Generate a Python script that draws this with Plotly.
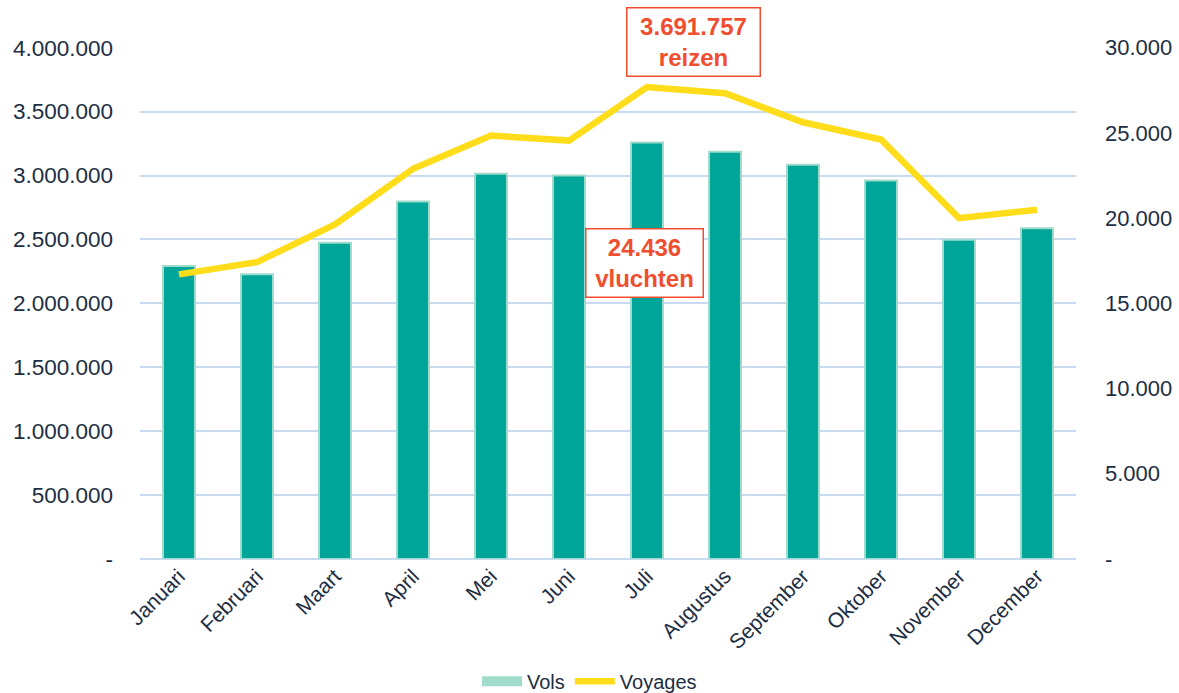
import plotly.graph_objects as go

maanden = ["Januari", "Februari", "Maart", "April", "Mei", "Juni", "Juli",
           "Augustus", "September", "Oktober", "November", "December"]
vols = [17190, 16700, 18560, 20980, 22600, 22500, 24436,
        23900, 23130, 22210, 18730, 19410]
voyages = [2226600, 2322700, 2617200, 3052300, 3312500, 3273400, 3691757,
           3643000, 3416400, 3281300, 2666400, 2732000]

left_ticks = [0, 500000, 1000000, 1500000, 2000000, 2500000, 3000000, 3500000, 4000000]
left_text = ["-", "500.000", "1.000.000", "1.500.000", "2.000.000", "2.500.000",
             "3.000.000", "3.500.000", "4.000.000"]
right_ticks = [0, 5000, 10000, 15000, 20000, 25000, 30000]
right_text = ["-", "5.000", "10.000", "15.000", "20.000", "25.000", "30.000"]

navy = "#1d2e44"
red = "#f04e2f"
teal = "#00a59a"
mint = "#9fdccb"
yellow = "#ffdd1a"
grid = "#c8dbef"
font = "Liberation Sans"

fig = go.Figure()
fig.add_trace(go.Bar(x=maanden, y=vols, name="Vols", yaxis="y", showlegend=False,
                     marker=dict(color=teal, line=dict(color=mint, width=2)),
                     width=0.41))
# legend swatch for the bars (wide rectangle like the original)
fig.add_trace(go.Scatter(x=[maanden[0]], y=[None], name="Vols", yaxis="y",
                         mode="lines", line=dict(color=mint, width=14)))
fig.add_trace(go.Scatter(x=maanden, y=voyages, name="Voyages", yaxis="y2",
                         mode="lines", line=dict(color=yellow, width=6.5)))

fig.update_layout(
    width=1179, height=693,
    margin=dict(l=140, r=103, t=47, b=134),
    plot_bgcolor="white", paper_bgcolor="white",
    font=dict(family=font, color=navy, size=20),
    showlegend=True,
    legend=dict(orientation="h", x=0.5, xanchor="center", xref="container",
                y=0.017, yanchor="middle", yref="container",
                font=dict(size=20), itemwidth=40, tracegroupgap=0),
    xaxis=dict(tickangle=-45, tickfont=dict(size=21), showgrid=False,
               showline=False, ticks="", automargin=False),
    yaxis=dict(side="right", range=[0, 30040], tickvals=right_ticks, ticktext=right_text,
               showgrid=False, zeroline=False,
               ticklabelstandoff=28, tickfont=dict(size=22), automargin=False),
    yaxis2=dict(side="left", overlaying="y", range=[0, 4005333], tickvals=left_ticks,
                ticktext=left_text, showgrid=True, gridcolor=grid, gridwidth=2,
                zeroline=True, zerolinecolor=grid, zerolinewidth=2,
                ticklabelstandoff=26, tickfont=dict(size=22.5), automargin=False),
    annotations=[
        dict(x="Juli", xref="x", y=1.0098, yref="paper", xanchor="center", yanchor="middle",
             text="<b>3.691.757<br>reizen</b>", showarrow=False, xshift=46,
             font=dict(color=red, size=24, family=font), width=126, height=61,
             bordercolor=red, borderwidth=1.5, borderpad=3, bgcolor="white"),
        dict(x="Juli", xref="x", y=0.578, yref="paper", xanchor="center", yanchor="middle",
             text="<b>24.436<br>vluchten</b>", showarrow=False, xshift=-3,
             font=dict(color=red, size=24, family=font), width=110, height=61,
             bordercolor=red, borderwidth=1.5, borderpad=3, bgcolor="white"),
    ],
)

fig.write_html("out.html", config={"displayModeBar": False},
               post_script="document.body.style.margin='0';")
